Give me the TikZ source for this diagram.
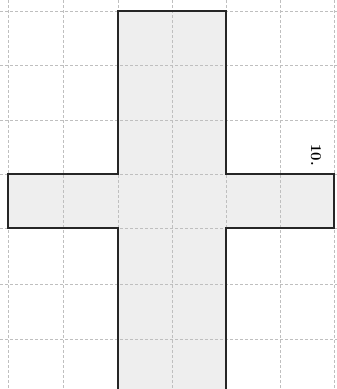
\documentclass[tikz,border=0pt]{standalone}
\begin{document}
\begin{tikzpicture}[x=1pt,y=-1pt,
  gridline/.style={gray!50, line width=0.5pt, dash pattern=on 3pt off 2pt},
  crossfill/.style={fill=gray!13},
  crossline/.style={draw=black!85, line width=2.2pt, line join=miter}]
\useasboundingbox (0,0) rectangle (337,389);
\fill[white] (0,0) rectangle (337,389);
% cross fill
\fill[crossfill] (118,11) -- (226,11) -- (226,174) -- (334,174) -- (334,228) -- (226,228) -- (226,395) -- (118,395) -- (118,228) -- (8,228) -- (8,174) -- (118,174) -- cycle;
% grid
\foreach \gx in {8,63,118,172,226,280,334} {\draw[gridline] (\gx,0) -- (\gx,389);}
\foreach \gy in {11,65,120,174,228,284,339} {\draw[gridline] (0,\gy) -- (337,\gy);}
% cross outline
\draw[crossline] (118,395) -- (118,228) -- (8,228) -- (8,174) -- (118,174) -- (118,11) -- (226,11) -- (226,174) -- (334,174) -- (334,228) -- (226,228) -- (226,395);
\node[rotate=-90, font=\fontsize{15}{17}\selectfont\bfseries] (label) at (316,155) {10.};
\end{tikzpicture}
\end{document}
